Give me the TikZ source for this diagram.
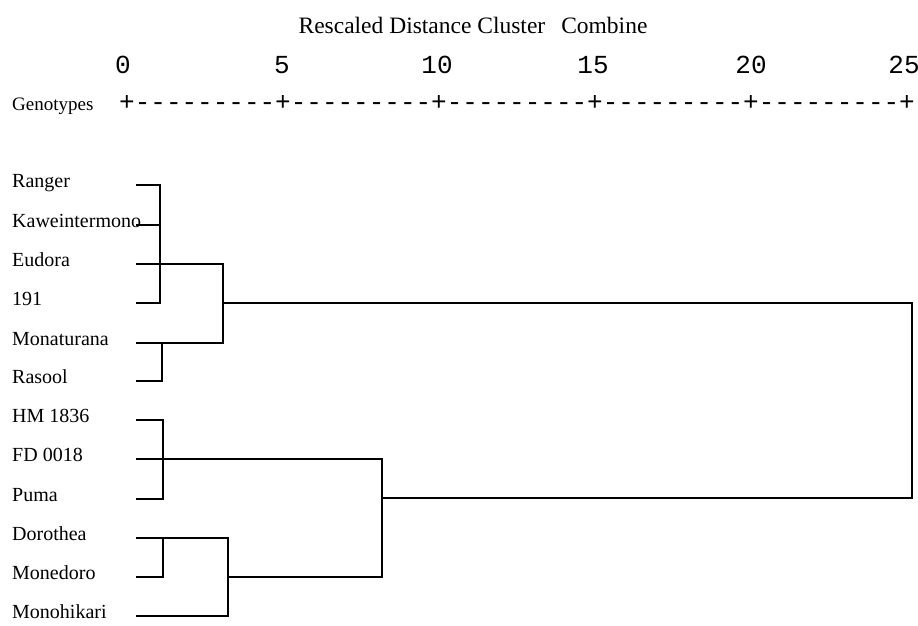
\documentclass[tikz,border=0pt]{standalone}
\usepackage{fontspec}
\setmainfont{Liberation Serif}
\setmonofont{Liberation Mono}
\usetikzlibrary{positioning}

\begin{document}
\begin{tikzpicture}[x=1pt,y=-1pt,
  leaf/.style={anchor=mid west,inner sep=0pt,font=\fontsize{20}{20}\selectfont},
  scalenum/.style={inner sep=0pt,font=\ttfamily\fontsize{26}{26}\selectfont},
  branch/.style={line width=1.4pt,line cap=rect},
]
  \useasboundingbox (0,0) rectangle (918,625);

  % Title and distance scale
  \node[inner sep=0pt,font=\fontsize{23.5}{23.5}\selectfont] (title) at (473,25)
    {Rescaled Distance Cluster\hspace{16pt}Combine};
  \node[scalenum] (n0)  at (123,65) {0};
  \node[scalenum] (n5)  at (282,65) {5};
  \node[scalenum] (n10) at (437,65) {10};
  \node[scalenum] (n15) at (593,65) {15};
  \node[scalenum] (n20) at (751,65) {20};
  \node[scalenum] (n25) at (904,65) {25};
  \node[leaf,font=\fontsize{19}{19}\selectfont] (geno) at (12,108) {Genotypes};
  \node[scalenum,anchor=mid west] (axis) at (119,108)
    {+---------+---------+---------+---------+---------+};

  % Genotype labels
  \node[leaf] (ranger) at (12,185) {Ranger};
  \node[leaf] (kawe)   at (12,225) {Kaweintermono};
  \node[leaf] (eudora) at (12,264) {Eudora};
  \node[leaf] (g191)   at (12,303) {191};
  \node[leaf] (monat)  at (12,343) {Monaturana};
  \node[leaf] (rasool) at (12,381) {Rasool};
  \node[leaf] (hm)     at (12,420) {HM 1836};
  \node[leaf] (fd)     at (12,459) {FD 0018};
  \node[leaf] (puma)   at (12,499) {Puma};
  \node[leaf] (doro)   at (12,538) {Dorothea};
  \node[leaf] (moned)  at (12,577) {Monedoro};
  \node[leaf] (monoh)  at (12,616) {Monohikari};

  % Leaf ends
  \coordinate (ranger-e) at (137,185);
  \coordinate (kawe-e)   at (137,225);
  \coordinate (eudora-e) at (137,264);
  \coordinate (g191-e)   at (137,303);
  \coordinate (monat-e)  at (137,343);
  \coordinate (rasool-e) at (137,381);
  \coordinate (hm-e)     at (137,420);
  \coordinate (fd-e)     at (137,459);
  \coordinate (puma-e)   at (137,499);
  \coordinate (doro-e)   at (137,538);
  \coordinate (moned-e)  at (137,577);
  \coordinate (monoh-e)  at (137,616);

  % Joins
  \coordinate (j1) at (160,264);
  \coordinate (j2) at (162,343);
  \coordinate (j3) at (223,303);
  \coordinate (j4) at (163,459);
  \coordinate (j5) at (163,538);
  \coordinate (j6) at (228,577);
  \coordinate (j7) at (382,498);
  \coordinate (j8) at (912,400);

  % Upper group
  \draw[branch] (ranger-e) -- (ranger-e -| j1) -- (j1 |- g191-e) -- (g191-e);
  \draw[branch] (kawe-e) -- (kawe-e -| j1);
  \draw[branch] (eudora-e) -- (j3 |- eudora-e) -- (j3 |- monat-e) -- (monat-e);
  \draw[branch] (rasool-e) -- (rasool-e -| j2) -- (j2);

  % Lower group
  \draw[branch] (hm-e) -- (hm-e -| j4) -- (j4 |- puma-e) -- (puma-e);
  \draw[branch] (fd-e) -- (j7 |- fd-e) -- (j7 |- j6) -- (j6);
  \draw[branch] (doro-e) -- (j6 |- doro-e) -- (j6 |- monoh-e) -- (monoh-e);
  \draw[branch] (moned-e) -- (moned-e -| j5) -- (j5);

  % Top join
  \draw[branch] (j3) -- (j8 |- j3) -- (j8 |- j7) -- (j7);
\end{tikzpicture}
\end{document}
